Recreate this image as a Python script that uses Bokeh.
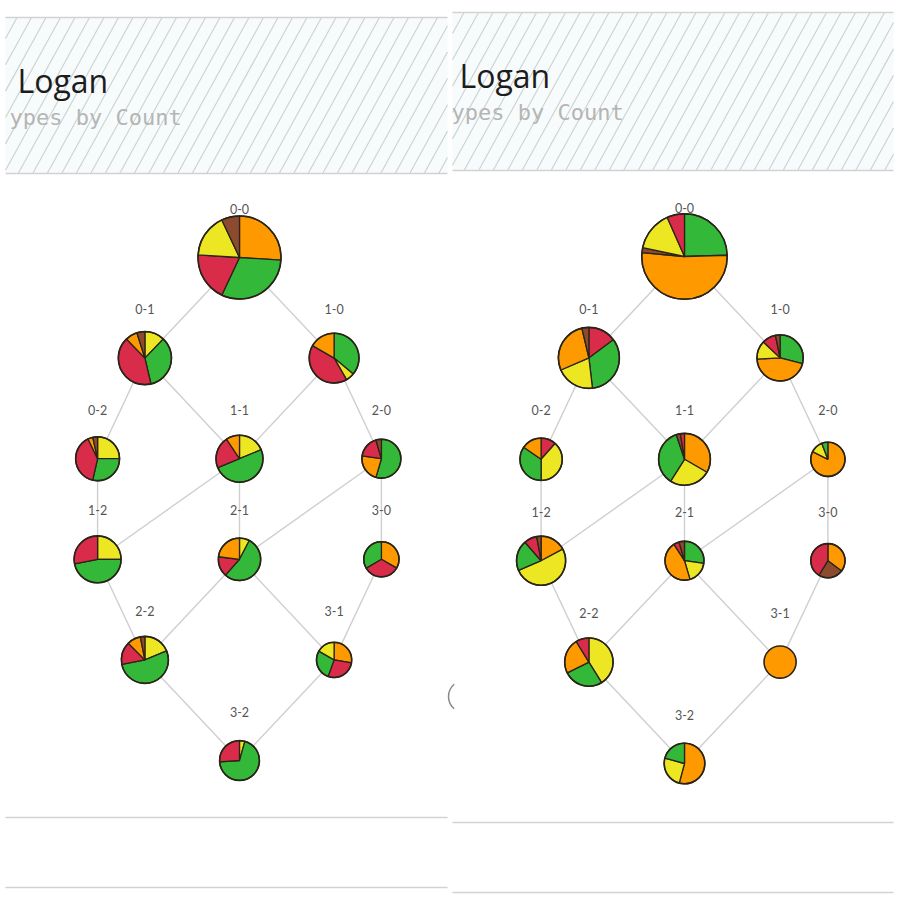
import numpy as np
from bokeh.plotting import figure
from bokeh.models import Range1d, ColumnDataSource
from bokeh.embed import file_html
from bokeh.resources import INLINE
from bokeh.core.properties import value

# ---------------- data ----------------
counts = ["0-0", "0-1", "1-0", "0-2", "1-1", "2-0", "1-2", "2-1", "3-0", "2-2", "3-1", "3-2"]
type_keys = ["o", "g", "r", "y", "b"]
type_colors = {"o": "#ff9900", "g": "#33b83a", "r": "#d82c4a", "y": "#ece722", "b": "#8c4a2f"}

title_text = "Logan"
subtitle_text = "ypes by Count"

# left screenshot: pitch counts per type at each count
left_o = [26, 3, 6, 1, 3, 5, 0, 6, 6, 3, 5, 0]
left_g = [31, 14, 13, 8, 16, 12, 15, 14, 6, 17, 5, 16]
left_r = [19, 17, 15, 11, 7, 4, 9, 4, 6, 5, 5, 6]
left_y = [17, 5, 2, 7, 6, 0, 8, 2, 0, 6, 3, 1]
left_b = [7, 2, 0, 1, 0, 1, 0, 0, 0, 1, 0, 0]
left_order = ["ogryb", "ygrob", "gyro", "ygrob", "ygro", "gorb", "ygr", "ygro", "org", "ygrob", "orgy", "ygr"]

# right screenshot
right_o = [55, 15, 14, 4, 13, 14, 6, 10, 6, 8, 15, 13]
right_g = [26, 18, 9, 9, 14, 1, 7, 6, 0, 9, 0, 5]
right_r = [7, 8, 3, 3, 1, 0, 3, 1, 7, 3, 0, 0]
right_y = [16, 11, 4, 10, 10, 2, 18, 4, 0, 14, 0, 6]
right_b = [2, 2, 1, 0, 1, 0, 1, 1, 4, 0, 0, 0]
right_order = ["gobyr", "rgyob", "goyrb", "rygo", "oygbr", "oyg", "oygrb", "gyorb", "obr", "ygor", "o", "oyg"]

# ---------------- layout (not data) ----------------
col_index = {"0-0": 0, "0-1": -2, "1-0": 2, "0-2": -3, "1-1": 0, "2-0": 3,
             "1-2": -3, "2-1": 0, "3-0": 3, "2-2": -2, "3-1": 2, "3-2": 0}

panels = [
    dict(x0=5, x1=447, head_top=17, head_bot=173, foot1=817, foot2=887,
         title_x=17, title_base=80, sub_x=9, sub_base=117,
         cx=239, unit=47.3, row0=257, step=100.6, k=4.15,
         vals={"o": left_o, "g": left_g, "r": left_r, "y": left_y, "b": left_b},
         order=left_order),
    dict(x0=452, x1=893, head_top=12, head_bot=170, foot1=822, foot2=892,
         title_x=459, title_base=75, sub_x=451, sub_base=112,
         cx=684, unit=47.8, row0=256, step=101.4, k=4.15,
         vals={"o": right_o, "g": right_g, "r": right_r, "y": right_y, "b": right_b},
         order=right_order),
]


def Y(y):
    return 900 - y


p = figure(width=900, height=900, x_range=Range1d(0, 900), y_range=Range1d(0, 900),
           output_backend="svg", toolbar_location=None, min_border=0,
           x_axis_location=None, y_axis_location=None)
p.grid.visible = False
p.outline_line_color = None
p.background_fill_color = "white"
p.border_fill_color = "white"

LINE = "#d2d2d2"

for P in panels:
    # header band with hatch
    p.quad(left=[P["x0"]], right=[P["x1"]], top=[Y(P["head_top"])], bottom=[Y(P["head_bot"])],
           fill_color="#f8fbfb", line_color=None)
    s = 0.55
    hgt = P["head_bot"] - P["head_top"]
    xs0, ys0, xs1, ys1 = [], [], [], []
    for xb in np.arange(P["x0"] - s * hgt - 3, P["x1"] + 1, 14.5):
        yb, yt = P["head_bot"], P["head_top"]
        xa, xe = xb, xb + s * hgt
        ya, ye = yb, yt
        if xa < P["x0"]:
            ya = yb - (P["x0"] - xb) / s
            xa = P["x0"]
        if xe > P["x1"]:
            ye = yb - (P["x1"] - xb) / s
            xe = P["x1"]
        if ya <= ye:
            continue
        xs0.append(xa); ys0.append(Y(ya)); xs1.append(xe); ys1.append(Y(ye))
    p.segment(x0=xs0, y0=ys0, x1=xs1, y1=ys1, line_color="#c7d3d0", line_width=1.1)
    for yy in (P["head_top"], P["head_bot"], P["foot1"], P["foot2"]):
        p.segment(x0=[P["x0"]], y0=[Y(yy)], x1=[P["x1"]], y1=[Y(yy)], line_color=LINE, line_width=1.6)

    # title texts
    p.text(x=[P["title_x"]], y=[Y(P["title_base"])], text=[title_text],
           text_font=value("Open Sans"), text_font_size="32px", text_color="#1c1c1c",
           text_baseline="alphabetic", text_align="left")
    p.text(x=[P["sub_x"]], y=[Y(P["sub_base"])], text=[subtitle_text],
           text_font=value("DejaVu Sans Mono"), text_font_size="22px", text_color="#b5b5b5",
           text_baseline="alphabetic", text_align="left")

    # node positions
    pos = {}
    for c in counts:
        b, st = int(c[0]), int(c[2])
        pos[c] = (P["cx"] + col_index[c] * P["unit"], P["row0"] + (b + st) * P["step"])

    # edges between counts
    ex0, ey0, ex1, ey1 = [], [], [], []
    for c in counts:
        b, st = int(c[0]), int(c[2])
        for nb, ns in ((b + 1, st), (b, st + 1)):
            key = f"{nb}-{ns}"
            if key in pos:
                ex0.append(pos[c][0]); ey0.append(Y(pos[c][1]))
                ex1.append(pos[key][0]); ey1.append(Y(pos[key][1]))
    p.segment(x0=ex0, y0=ey0, x1=ex1, y1=ey1, line_color="#cfcfcf", line_width=1.4)

    # pies
    wx, wy, wr, wsa, wea, wc = [], [], [], [], [], []
    fx, fy, fr, fc = [], [], [], []
    cx_, cy_, cr_ = [], [], []
    lx, ly, lt = [], [], []
    for i, c in enumerate(counts):
        total = sum(P["vals"][t][i] for t in type_keys)
        r = P["k"] * np.sqrt(total)
        x, y = pos[c]
        cx_.append(x); cy_.append(Y(y)); cr_.append(r)
        lx.append(x); ly.append(Y(y - 49)); lt.append(c)
        acc = 0.0
        for t in P["order"][i]:
            v = P["vals"][t][i]
            if v == 0:
                continue
            if v == total:
                fx.append(x); fy.append(Y(y)); fr.append(r); fc.append(type_colors[t])
                continue
            th0 = acc / total * 2 * np.pi
            acc += v
            th1 = acc / total * 2 * np.pi
            wx.append(x); wy.append(Y(y)); wr.append(r)
            wsa.append(np.pi / 2 - th1); wea.append(np.pi / 2 - th0)
            wc.append(type_colors[t])
    if fx:
        p.circle(x=fx, y=fy, radius=fr, fill_color=fc, line_color=None)
    src = ColumnDataSource(dict(x=wx, y=wy, r=wr, sa=wsa, ea=wea, c=wc))
    p.wedge(x="x", y="y", radius="r", start_angle="sa", end_angle="ea", fill_color="c",
            line_color="#2a2418", line_width=1.3, source=src)
    p.circle(x=cx_, y=cy_, radius=cr_, fill_color=None, line_color="#2a2418", line_width=1.6)
    p.text(x=lx, y=ly, text=lt, text_font=value("Lato"), text_font_size="12.5px",
           text_color="#555555", text_align="center", text_baseline="middle")

# small stray arc at the seam of the two screenshots
p.arc(x=[464], y=[Y(696)], radius=16, start_angle=np.radians(130), end_angle=np.radians(230),
      line_color="#888888", line_width=1.5)

open("out.html", "w").write(file_html(p, INLINE))
